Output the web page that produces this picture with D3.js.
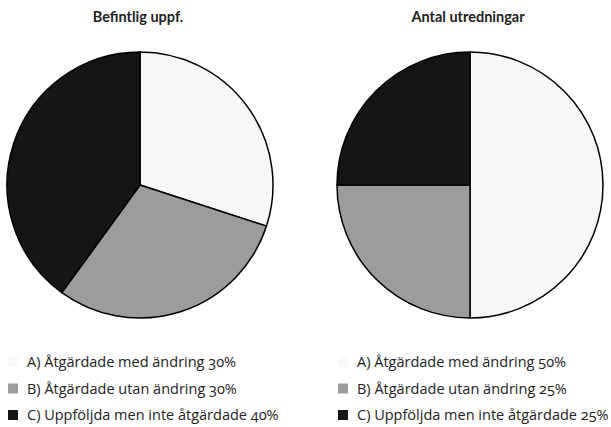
<!DOCTYPE html>
<html>
<head>
<meta charset="utf-8">
<script src="https://cdn.jsdelivr.net/npm/d3@7"></script>
<style>
  body { margin: 0; background: #fff; }
  text { fill: #222; }
  .title { font-family: Lato, "Open Sans", sans-serif; font-size: 14.5px; font-weight: bold; }
  .legend-label { font-family: "Open Sans", Lato, sans-serif; font-size: 14.5px; font-variant-numeric: oldstyle-nums; }
</style>
</head>
<body>
<div id="chart"></div>
<script>
// data
const categories = ["A) Åtgärdade med ändring", "B) Åtgärdade utan ändring", "C) Uppföljda men inte åtgärdade"];
const titles = ["Befintlig uppf.", "Antal utredningar"];
const befintligValues = [30, 30, 40];
const utredningarValues = [50, 25, 25];
const colors = ["#f7f7f7", "#9c9c9c", "#151515"];

const w = 611, h = 427;
const svg = d3.select("#chart").append("svg")
  .attr("width", w)
  .attr("height", h);

const panels = [
  {title: titles[0], values: befintligValues, cx: 140, legendX: 8},
  {title: titles[1], values: utredningarValues, cx: 470, legendX: 338}
];

const radius = 133;
const pie = d3.pie().sort(null).value(d => d);
const arc = d3.arc().innerRadius(0).outerRadius(radius);
const color = d3.scaleOrdinal().domain(d3.range(categories.length)).range(colors);

panels.forEach(p => {
  svg.append("text")
    .attr("class", "title")
    .attr("x", p.cx - 2)
    .attr("y", 22)
    .attr("text-anchor", "middle")
    .text(p.title);

  const g = svg.append("g")
    .attr("transform", `translate(${p.cx}, 185)`);

  g.selectAll("path")
    .data(pie(p.values))
    .enter()
    .append("path")
    .attr("d", arc)
    .attr("fill", (d, i) => color(i))
    .attr("stroke", "#000")
    .attr("stroke-width", 1.5)
    .attr("stroke-linejoin", "round");

  // legend
  const legend = svg.append("g")
    .attr("transform", `translate(${p.legendX}, 357)`);
  const rows = legend.selectAll("g")
    .data(categories)
    .enter()
    .append("g")
    .attr("transform", (d, i) => `translate(0, ${i * 26.5})`);
  rows.append("rect")
    .attr("width", 10)
    .attr("height", 10)
    .attr("fill", (d, i) => color(i));
  rows.append("text")
    .attr("class", "legend-label")
    .attr("x", 19)
    .attr("y", 10)
    .text((d, i) => `${d} ${p.values[i]}%`);
});
</script>
</body>
</html>
